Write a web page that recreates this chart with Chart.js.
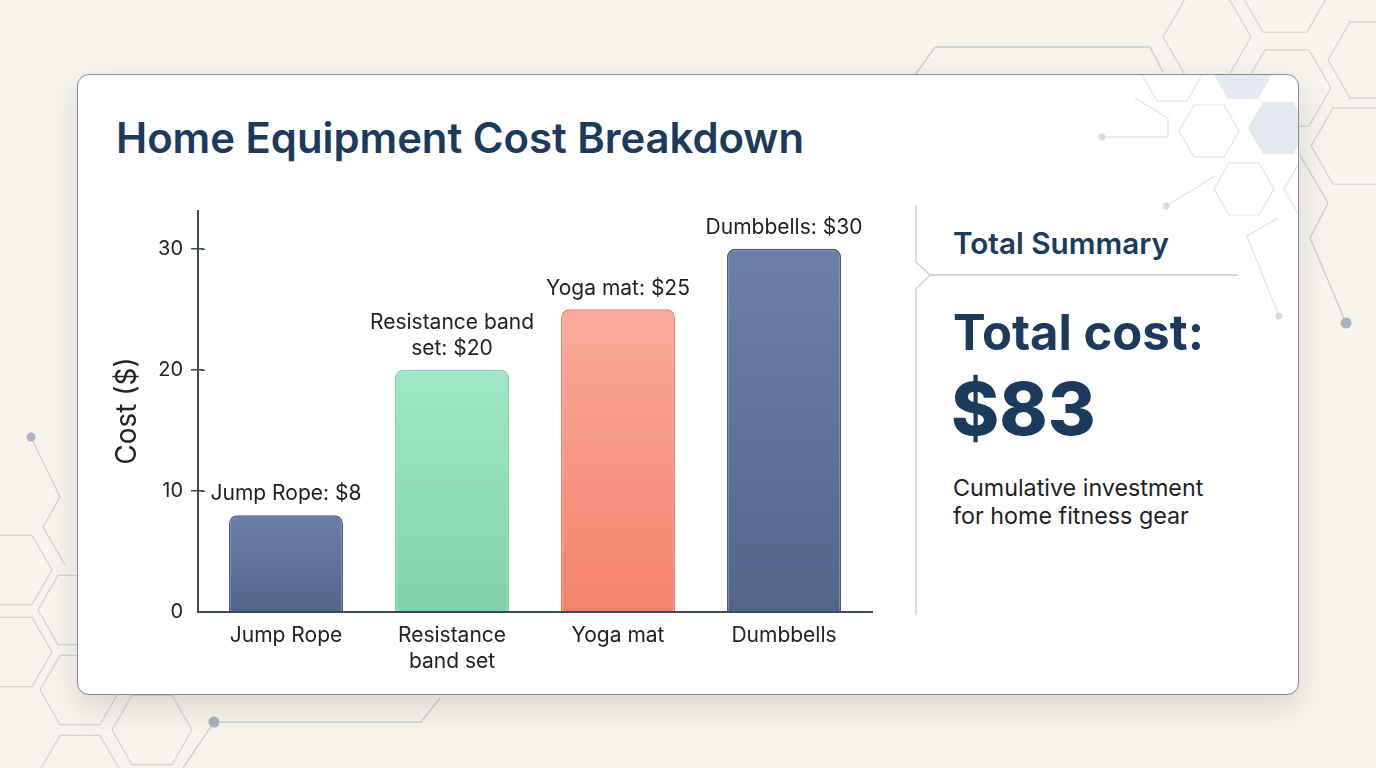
<!DOCTYPE html>
<html>
<head>
<meta charset="utf-8">
<script src="https://cdn.jsdelivr.net/npm/chart.js@4.4.1/dist/chart.umd.min.js"></script>
<style>
  html,body{margin:0;padding:0;}
  body{width:1376px;height:768px;overflow:hidden;position:relative;background:#f7f4ee;font-family:Inter,"Noto Sans",sans-serif;}
  svg.deco{position:absolute;left:0;top:0;width:1376px;height:768px;}
  #card{position:absolute;left:77px;top:74px;width:1222px;height:621px;box-sizing:border-box;border:1.5px solid #7f8a9b;border-radius:12px;background:#fff;box-shadow:0 12px 30px rgba(70,60,40,0.16);}
  .abs{position:absolute;white-space:nowrap;}
  #title{left:116px;top:113px;font-size:41.8px;font-weight:600;color:#1b3a5c;}
  #chartWrap{position:absolute;left:100px;top:190px;width:790px;height:500px;}
  #sumTitle{left:953px;top:225px;font-size:29.7px;font-weight:600;color:#1b3a5c;}
  #totalLbl{left:953px;top:303px;font-size:49px;font-weight:700;color:#1b3a5c;line-height:60px;}
  #totalVal{left:951px;top:365px;font-size:73px;font-weight:800;color:#1b3a5c;line-height:88px;}
  #note{left:953px;top:474px;font-size:23.3px;color:#1f1f1f;line-height:28px;}
</style>
</head>
<body>
<svg class="deco" id="bgDeco"></svg>
<div id="card"></div>
<svg class="deco" id="inDeco">
  <defs><clipPath id="cardClip"><rect x="78" y="75" width="1220" height="619" rx="11"/></clipPath></defs>
  <g id="inG" clip-path="url(#cardClip)"></g>
</svg>
<svg class="deco" id="panelDeco"></svg>
<div class="abs" id="title">Home Equipment Cost Breakdown</div>
<div id="chartWrap"><canvas id="c" width="790" height="500"></canvas></div>
<div class="abs" id="sumTitle">Total Summary</div>
<div class="abs" id="totalLbl">Total cost:</div>
<div class="abs" id="totalVal"></div>
<div class="abs" id="note">Cumulative investment<br>for home fitness gear</div>
<script>
// ---- data ----
const categories = ['Jump Rope', 'Resistance band set', 'Yoga mat', 'Dumbbells'];
const costs = [8, 20, 25, 30];
const xTickLabels = ['Jump Rope', ['Resistance', 'band set'], 'Yoga mat', 'Dumbbells'];
const barLabels = [['Jump Rope: $8'], ['Resistance band', 'set: $20'], ['Yoga mat: $25'], ['Dumbbells: $30']];
const yTicks = [0, 10, 20, 30];
const yMax = 33.2;

// ---- styles ----
const barTop = ['#6b80a8', '#a0e7c6', '#f9ab9b', '#6b80a8'];
const barBottom = ['#52648a', '#80d2ac', '#f4816b', '#52648a'];
const barBorder = ['#4a5a7b', '#7fcca8', '#ea7c67', '#4a5a7b'];
const axisColor = '#3b4a58';

document.getElementById('totalVal').textContent = '$' + costs.reduce((a, b) => a + b, 0);

// ---- decorations ----
const NS = 'http://www.w3.org/2000/svg';
function hexPts(cx, cy, r) {
  const p = [];
  for (let k = 0; k < 6; k++) { const a = Math.PI / 3 * k; p.push((cx + r * Math.cos(a)).toFixed(1) + ',' + (cy + r * Math.sin(a)).toFixed(1)); }
  return p.join(' ');
}
function add(parent, tag, attrs) { const e = document.createElementNS(NS, tag); for (const k in attrs) e.setAttribute(k, attrs[k]); parent.appendChild(e); return e; }
const bg = document.getElementById('bgDeco');
const lineC = '#d3d3d3';
[[1207, 37, 44], [1287, 88, 44], [1355, 146, 44], [1285, -6, 44], [1372, 60, 44],
 [12, 570, 40], [12, 652, 40], [78, 610, 40], [80, 690, 40], [152, 730, 40], [80, 770, 40]].forEach(h =>
  add(bg, 'polygon', {points: hexPts(h[0], h[1], h[2]), fill: 'none', stroke: lineC, 'stroke-width': 1.3}));
add(bg, 'polyline', {points: '903,92 935,47 1150,47 1163,72', fill: 'none', stroke: '#c9ccd3', 'stroke-width': 1.3});
add(bg, 'polyline', {points: '1300,155 1328,203 1310,238 1346,323', fill: 'none', stroke: '#c9ccd3', 'stroke-width': 1.3});
add(bg, 'polyline', {points: '31,437 60,497 43,527 65,565', fill: 'none', stroke: '#cfd1d6', 'stroke-width': 1.3});
add(bg, 'polyline', {points: '183,768 214,722 421,722 440,698', fill: 'none', stroke: '#c9ccd3', 'stroke-width': 1.3});
[[903, 92, 5], [1346, 323, 5.5], [31, 437, 4.5], [214, 722, 5.5]].forEach(d => add(bg, 'circle', {cx: d[0], cy: d[1], r: d[2], fill: '#aab3c2'}));

const ig = document.getElementById('inG');
[[1243, 73, 30, '#e7eaf0'], [1278, 128, 30, '#e4e8ef']].forEach(h =>
  add(ig, 'polygon', {points: hexPts(h[0], h[1], h[2]), fill: h[3], stroke: 'none'}));
[[1172, 75, 30], [1209, 131, 30], [1244, 189, 30], [1314, 189, 30]].forEach(h =>
  add(ig, 'polygon', {points: hexPts(h[0], h[1], h[2]), fill: 'none', stroke: '#e2e3e6', 'stroke-width': 1.2}));
add(ig, 'polyline', {points: '1102,137 1168,137 1168,118 1135,98', fill: 'none', stroke: '#e0e1e4', 'stroke-width': 1.2});
add(ig, 'polyline', {points: '1166,206 1215,176', fill: 'none', stroke: '#e0e1e4', 'stroke-width': 1.2});
add(ig, 'polyline', {points: '1278,218 1247,236 1279,316', fill: 'none', stroke: '#e0e1e4', 'stroke-width': 1.2});
[[1102, 137, 3.5], [1166, 206, 3.5], [1279, 316, 3.5]].forEach(d => add(ig, 'circle', {cx: d[0], cy: d[1], r: d[2], fill: '#d7dae0'}));

const pd = document.getElementById('panelDeco');
add(pd, 'polyline', {points: '916,205 916,262 930,275 916,289 916,615', fill: 'none', stroke: '#cbced4', 'stroke-width': 1.3});
add(pd, 'line', {x1: 930, y1: 275, x2: 1238, y2: 275, stroke: '#c3c8d1', 'stroke-width': 1.3});

// ---- chart ----
Chart.defaults.font.family = 'Inter, "Noto Sans", sans-serif';

const valueLabelPlugin = {
  id: 'valueLabels',
  afterDatasetsDraw(chart) {
    const ctx = chart.ctx;
    const meta = chart.getDatasetMeta(0);
    ctx.save();
    ctx.font = '21px Inter, "Noto Sans", sans-serif';
    ctx.fillStyle = '#1f1f1f';
    ctx.textAlign = 'center';
    ctx.textBaseline = 'middle';
    meta.data.forEach((el, i) => {
      const lines = barLabels[i];
      for (let k = 0; k < lines.length; k++) {
        const y = el.y - 21 - (lines.length - 1 - k) * 26;
        ctx.fillText(lines[k], el.x, y);
      }
    });
    ctx.restore();
  }
};
// axis lines sit a few pixels outside the plotted category band, as in the reference
const axisPlugin = {
  id: 'axisLines',
  afterDraw(chart) {
    const ctx = chart.ctx, ys = chart.scales.y, a = chart.chartArea;
    const ax = a.left - 5;
    ctx.save();
    ctx.strokeStyle = axisColor;
    ctx.lineWidth = 2;
    ctx.beginPath();
    ctx.moveTo(ax, a.top); ctx.lineTo(ax, a.bottom + 1);
    ctx.moveTo(ax - 1, a.bottom); ctx.lineTo(a.right + 6, a.bottom);
    ctx.stroke();
    ctx.lineWidth = 1.5;
    yTicks.forEach(v => {
      if (v === 0) return;
      const y = Math.round(ys.getPixelForValue(v)) + 0.25;
      ctx.beginPath(); ctx.moveTo(a.left - 2, y); ctx.lineTo(a.left + 2, y); ctx.stroke();
    });
    ctx.restore();
  }
};

new Chart(document.getElementById('c'), {
  type: 'bar',
  data: {
    labels: xTickLabels,
    datasets: [{
      data: costs,
      backgroundColor(ctx) {
        const i = ctx.dataIndex;
        const c = ctx.chart;
        if (!c.chartArea || i === undefined) return barTop[i || 0];
        const y0 = c.scales.y.getPixelForValue(costs[i]);
        const g = c.ctx.createLinearGradient(0, y0, 0, c.chartArea.bottom);
        g.addColorStop(0, barTop[i]);
        g.addColorStop(1, barBottom[i]);
        return g;
      },
      borderColor: barBorder,
      borderWidth: 1.5,
      borderRadius: {topLeft: 8, topRight: 8, bottomLeft: 0, bottomRight: 0},
      borderSkipped: 'bottom',
      categoryPercentage: 0.687,
      barPercentage: 1
    }]
  },
  options: {
    responsive: false,
    animation: false,
    devicePixelRatio: 1,
    layout: {padding: {top: 17, right: 23, left: 0, bottom: 0}},
    plugins: {legend: {display: false}, tooltip: {enabled: false}, title: {display: false}},
    scales: {
      x: {
        grid: {display: false, drawTicks: false},
        border: {display: false},
        ticks: {color: '#222', font: {size: 21, lineHeight: 1.24}, padding: 11},
        afterFit(s) { s.height = 78; }
      },
      y: {
        min: 0, max: yMax,
        afterBuildTicks(s) { s.ticks = yTicks.map(v => ({value: v})); },
        grid: {drawOnChartArea: false, drawTicks: true, tickLength: 12, lineWidth: 1.5,
               tickColor: ctx => (ctx.tick && ctx.tick.value === 0) ? 'rgba(0,0,0,0)' : axisColor},
        border: {display: false},
        ticks: {color: '#222', font: {size: 20}, padding: 8},
        title: {display: true, text: 'Cost ($)', color: '#222', font: {size: 28}, padding: {top: 11, bottom: 0}},
        afterFit(s) { s.width = 103; }
      }
    }
  },
  plugins: [valueLabelPlugin, axisPlugin]
});
</script>
</body>
</html>
